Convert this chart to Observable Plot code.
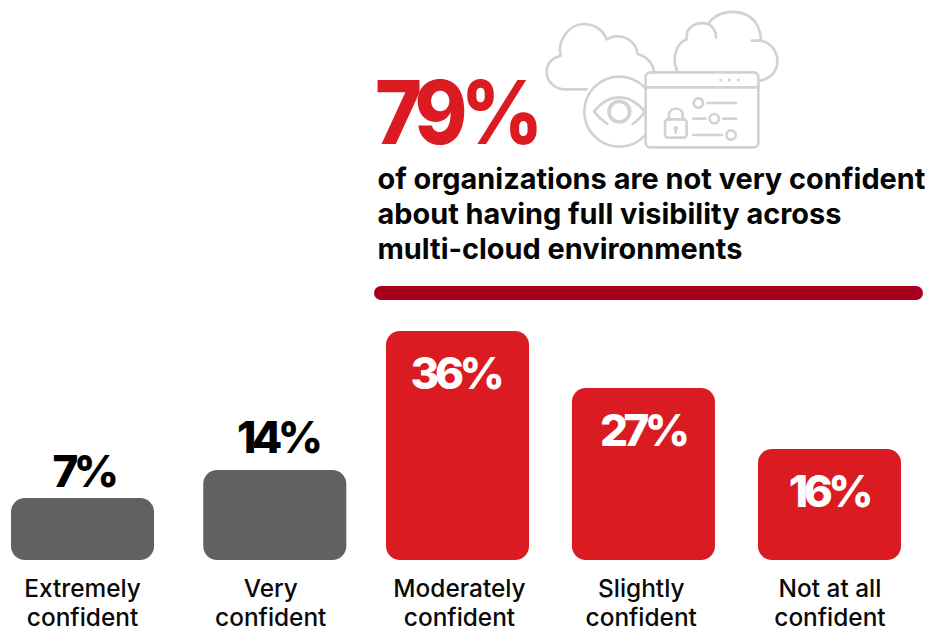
<!DOCTYPE html>
<html>
<head>
<meta charset="utf-8">
<script src="https://cdn.jsdelivr.net/npm/d3@7"></script>
<script src="https://cdn.jsdelivr.net/npm/@observablehq/plot@0.6"></script>
<style>
  html, body { margin: 0; padding: 0; background: #fff; }
  body { width: 930px; height: 631px; overflow: hidden; font-family: Inter, sans-serif; }
  #head { position: relative; width: 930px; height: 320px; }
  #big { position: absolute; left: 375px; top: 62px; font-size: 88px; line-height: 100px; font-weight: 800; letter-spacing: -7.5px; color: #da1b22; transform: scaleX(0.91); transform-origin: left center; }
  #lead { position: absolute; left: 377.5px; top: 161px; font-size: 28.9px; line-height: 35px; font-weight: 700; color: #050505; white-space: nowrap; }
  #rule { position: absolute; left: 374px; top: 286px; width: 549px; height: 14px; border-radius: 7px; background: #a6001e; }
  #icon { position: absolute; left: 530px; top: 0; width: 260px; height: 160px; }
  #icon * { fill: none; stroke: #d2d2d2; stroke-width: 8; stroke-linecap: round; stroke-linejoin: round; }
  #icon .solid { fill: #fff; }
  #icon .dot { stroke-linecap: butt; stroke-dasharray: 8 18.5; stroke-width: 8; }
  svg { display: block; }
  g[font-size="44"] text { letter-spacing: -4.5px; }
</style>
</head>
<body>
<div id="head">
  <svg id="icon" viewBox="0 0 780 480">
    <path d="M170 268H105C70 268 50 240 50 215C50 190 68 172 92 168C80 120 120 72 160 72C195 72 220 92 230 118C270 95 320 120 322 162C350 168 368 190 372 215"/>
    <path d="M440 210C425 170 440 130 470 118C465 85 495 62 535 72C560 30 620 30 650 45C680 60 695 95 692 122H665M692 122C730 130 745 165 742 190C738 220 715 240 685 242M535 72C550 80 558 95 558 112"/>
    <circle class="solid" cx="268" cy="335" r="105"/>
    <path d="M345 335C320 305 295 292 268 292C240 292 215 305 192 335C205 352 220 364 232 372M345 335C335 350 320 364 308 372"/>
    <circle cx="268" cy="335" r="31" style="stroke-width:11"/>
    <rect class="solid" x="347" y="217" width="338" height="225" rx="14"/>
    <path d="M347 262H685"/>
    <path class="dot" d="M568 240H632"/>
    <rect x="405" y="358" width="65" height="55" rx="10"/>
    <path d="M417 358V345C417 320 458 320 458 345V358M437 385V398"/>
    <circle cx="437" cy="385" r="3"/>
    <circle cx="505" cy="309" r="14"/>
    <path d="M532 309H618M490 356H526"/>
    <circle cx="553" cy="356" r="14"/>
    <path d="M580 356H618M490 405H576"/>
    <circle cx="603" cy="405" r="14"/>
  </svg>
  <div id="big">79%</div>
  <div id="lead">of organizations are not very confident<br>about having full visibility across<br>multi-cloud environments</div>
  <div id="rule"></div>
</div>
<script>
// Survey answers, in the order of the confidence scale.
const categories = ["Extremely confident", "Very confident", "Moderately confident", "Slightly confident", "Not at all confident"];
const shares = [7, 14, 36, 27, 16];
const notConfident = [false, false, true, true, true];

const rows = categories.map((category, i) => ({
  category,
  share: shares[i],
  notConfident: notConfident[i],
  // Two-line axis label: the last word sits on its own line.
  label: category.replace(/ (confident)$/, "\n$1")
}));

// Per-column horizontal nudges, in pixels.
const barShift = [0, 5.5, 1.5, 0.7, 0];
const shareShift = [0.5, 8, -1, -0.5, -1];
const labelShift = [-0.5, 1, 3, -2, 0];

const red = "#da1b22";
const grey = "#616161";

const columnMarks = rows.flatMap((row, i) => [
  Plot.barY([row], {x: "category", y: "share", fill: row.notConfident ? red : grey, rx: 14, dx: barShift[i]}),
  Plot.text([row], {
    x: "category", y: "share",
    text: (d) => `${d.share}%`,
    dx: shareShift[i],
    dy: row.notConfident ? 43 : (row.share === 7 ? -26 : -32),
    fill: row.notConfident ? "#fff" : "#000",
    fontSize: 44, fontWeight: 800
  }),
  Plot.text([row], {
    x: "category", y: () => 0,
    text: "label",
    dx: labelShift[i], dy: 42,
    lineHeight: 1.18,
    fill: "#0a0a0a",
    fontSize: 24.4, fontWeight: 500
  })
]);

const chart = Plot.plot({
  width: 930,
  height: 311,
  margin: 0,
  x: {axis: null, domain: categories, range: [11, 901], paddingInner: 0.234, paddingOuter: 0, round: false},
  // The column heights follow the published graphic, which is not strictly proportional.
  y: {type: "linear", axis: null, domain: [0, 7, 14, 16, 27, 36], range: [240, 178, 150, 129, 68, 11]},
  style: {background: "transparent", fontFamily: "Inter, sans-serif"},
  marks: columnMarks
});
document.body.appendChild(chart);
</script>
</body>
</html>
